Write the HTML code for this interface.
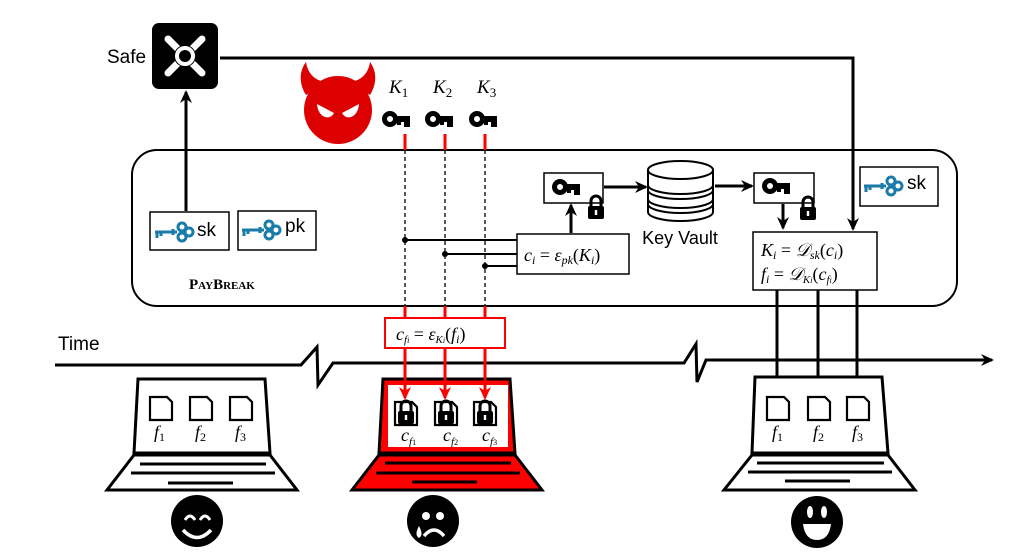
<!DOCTYPE html>
<html><head><meta charset="utf-8"><style>
html,body{margin:0;padding:0;background:#fff;}
svg{display:block;}
.t{font-family:"Liberation Sans",sans-serif;}
.m{font-family:"Liberation Serif",serif;font-style:italic;}
</style></head><body>
<svg width="1029" height="557" viewBox="0 0 1029 557" xmlns="http://www.w3.org/2000/svg">
<defs>
<marker id="ab" markerWidth="14" markerHeight="14" refX="11" refY="6" orient="auto" markerUnits="userSpaceOnUse"><path d="M0,0 L13,6 L0,12 L4,6 Z" fill="#000"/></marker>
<marker id="ar" markerWidth="14" markerHeight="14" refX="11" refY="6" orient="auto" markerUnits="userSpaceOnUse"><path d="M0,0 L13,6 L0,12 L4,6 Z" fill="#f00"/></marker>
<g id="bkey"><circle cx="7" cy="0" r="5.5" fill="none" stroke="#000" stroke-width="5"/><rect x="12" y="-3" width="15" height="6" fill="#000"/><rect x="21" y="0" width="6" height="8" fill="#000"/><rect x="14" y="0" width="4" height="6" fill="#000"/></g>
<g id="bluekey" fill="none" stroke="#1a7aa8" stroke-width="3"><line x1="0" y1="0" x2="22" y2="0"/><line x1="2" y1="0" x2="2" y2="6"/><line x1="6" y1="0" x2="6" y2="4"/><line x1="18" y1="-3" x2="18" y2="3"/><circle cx="27" cy="-5" r="4"/><circle cx="27" cy="5" r="4"/><circle cx="34" cy="0" r="4"/></g>
<g id="lock"><path d="M-5,-2 v-5 a5,5 0 0 1 10,0 v5" fill="none" stroke="#000" stroke-width="3"/><rect x="-8" y="-2" width="16" height="13" rx="2" fill="#000"/><rect x="-1.2" y="2" width="2.4" height="5" fill="#fff"/></g>
<g id="file"><path d="M0,0 H17 L22,5 V23 H0 Z" fill="#fff" stroke="#000" stroke-width="2.2"/></g>
</defs>

<!-- Safe -->
<text x="107" y="63" class="t" font-size="19">Safe</text>
<rect x="152" y="23" width="66" height="66" rx="7" fill="#000"/>
<g stroke="#fff" stroke-width="7" stroke-linecap="round"><line x1="168" y1="39" x2="202" y2="73"/><line x1="202" y1="39" x2="168" y2="73"/></g>
<circle cx="185" cy="56" r="11" fill="#000"/><circle cx="185" cy="56" r="8" fill="none" stroke="#fff" stroke-width="4"/>
<polyline points="220,58 853,58 853,229" fill="none" stroke="#000" stroke-width="3" marker-end="url(#ab)"/>

<!-- Devil -->
<g fill="#d00">
<circle cx="338" cy="110" r="34"/>
<path d="M306,95 C298,82 300,70 306,62 C308,76 318,82 328,82 Z"/>
<path d="M370,95 C378,82 376,70 370,62 C368,76 358,82 348,82 Z"/>
</g>
<path d="M317,104 L334,113 C330,121 318,118 317,104 Z" fill="#fff"/>
<path d="M359,104 L342,113 C346,121 358,118 359,104 Z" fill="#fff"/>

<!-- K keys -->
<text x="389" y="93" class="m" font-size="19">K<tspan font-size="13" font-style="normal" dy="4">1</tspan></text>
<text x="433" y="93" class="m" font-size="19">K<tspan font-size="13" font-style="normal" dy="4">2</tspan></text>
<text x="477" y="93" class="m" font-size="19">K<tspan font-size="13" font-style="normal" dy="4">3</tspan></text>
<use href="#bkey" x="383" y="119"/><use href="#bkey" x="426" y="119"/><use href="#bkey" x="470" y="119"/>

<!-- main box -->
<rect x="132" y="150" width="825" height="156" rx="25" fill="none" stroke="#000" stroke-width="2"/>

<g stroke="#f00" stroke-width="3"><line x1="405" y1="134" x2="405" y2="150"/><line x1="445" y1="134" x2="445" y2="150"/><line x1="485" y1="134" x2="485" y2="150"/>
<line x1="405" y1="306" x2="405" y2="318"/><line x1="445" y1="306" x2="445" y2="318"/><line x1="485" y1="306" x2="485" y2="318"/></g>
<g stroke="#000" stroke-width="1.3" stroke-dasharray="4,3"><line x1="405" y1="150" x2="405" y2="306"/><line x1="445" y1="150" x2="445" y2="306"/><line x1="485" y1="150" x2="485" y2="306"/></g>
<g stroke="#000" stroke-width="2"><line x1="405" y1="240" x2="517" y2="240"/><line x1="445" y1="254" x2="517" y2="254"/><line x1="485" y1="266" x2="517" y2="266"/></g>
<circle cx="405" cy="240" r="3"/><circle cx="445" cy="254" r="3"/><circle cx="485" cy="266" r="3"/>

<!-- sk pk -->
<rect x="150" y="212" width="79" height="38" fill="#fff" stroke="#000" stroke-width="1.5"/>
<use href="#bluekey" x="155" y="232"/><text x="197" y="236" class="t" font-size="19">sk</text>
<rect x="238" y="211" width="78" height="39" fill="#fff" stroke="#000" stroke-width="1.5"/>
<use href="#bluekey" x="242" y="230"/><text x="285" y="232" class="t" font-size="19">pk</text>
<line x1="186" y1="211" x2="186" y2="92" stroke="#000" stroke-width="3" marker-end="url(#ab)"/>
<text x="189" y="289" font-family="Liberation Serif,serif" font-weight="bold" font-size="15">P<tspan font-size="11">AY</tspan>B<tspan font-size="11">REAK</tspan></text>

<!-- c_i box -->
<rect x="517" y="234" width="112" height="40" fill="#fff" stroke="#000" stroke-width="1.5"/>
<text x="524" y="261" class="m" font-size="18">c<tspan font-size="12" dy="3">i</tspan><tspan dy="-3" font-style="normal"> = </tspan>ε<tspan font-size="12" dy="3">pk</tspan><tspan dy="-3" font-style="normal">(</tspan>K<tspan font-size="12" dy="3">i</tspan><tspan dy="-3" font-style="normal">)</tspan></text>
<line x1="571" y1="233" x2="571" y2="205" stroke="#000" stroke-width="3" marker-end="url(#ab)"/>

<rect x="544" y="173" width="59" height="30" fill="#fff" stroke="#000" stroke-width="1.5"/>
<use href="#bkey" x="553" y="187"/><use href="#lock" x="596" y="208"/>
<line x1="604" y1="187" x2="646" y2="187" stroke="#000" stroke-width="3" marker-end="url(#ab)"/>

<!-- DB -->
<g fill="#fff" stroke="#000" stroke-width="2">
<path d="M648,170 V212 A32.5,9 0 0 0 713,212 V170"/>
<ellipse cx="680.5" cy="170" rx="32.5" ry="9"/>
<path d="M648,185 A32.5,9 0 0 0 713,185" fill="none"/><path d="M648,190 A32.5,9 0 0 0 713,190" fill="none"/>
<path d="M648,199 A32.5,9 0 0 0 713,199" fill="none"/><path d="M648,204 A32.5,9 0 0 0 713,204" fill="none"/>
</g>
<text x="680" y="244" class="t" font-size="18" text-anchor="middle">Key Vault</text>
<line x1="715" y1="186" x2="752" y2="186" stroke="#000" stroke-width="3" marker-end="url(#ab)"/>

<rect x="754" y="173" width="60" height="30" fill="#fff" stroke="#000" stroke-width="1.5"/>
<use href="#bkey" x="763" y="186"/><use href="#lock" x="808" y="209"/>
<line x1="783" y1="204" x2="783" y2="228" stroke="#000" stroke-width="3" marker-end="url(#ab)"/>

<rect x="860" y="167" width="78" height="39" fill="#fff" stroke="#000" stroke-width="1.5"/>
<use href="#bluekey" x="864" y="186"/><text x="907" y="189" class="t" font-size="19">sk</text>

<!-- decrypt box -->
<rect x="753" y="232" width="124" height="58" fill="#fff" stroke="#000" stroke-width="1.5"/>
<text x="761" y="256" class="m" font-size="18">K<tspan font-size="12" dy="3">i</tspan><tspan dy="-3" font-style="normal"> = </tspan>𝒟<tspan font-size="12" dy="3">sk</tspan><tspan dy="-3" font-style="normal">(</tspan>c<tspan font-size="12" dy="3">i</tspan><tspan dy="-3" font-style="normal">)</tspan></text>
<text x="761" y="280" class="m" font-size="18">f<tspan font-size="12" dy="3">i</tspan><tspan dy="-3" font-style="normal"> = </tspan>𝒟<tspan font-size="11" dy="3">K<tspan font-size="8">i</tspan></tspan><tspan dy="-3" font-style="normal">(</tspan>c<tspan font-size="11" dy="3">f<tspan font-size="8">i</tspan></tspan><tspan dy="-3" font-style="normal">)</tspan></text>
<g stroke="#000" stroke-width="3" marker-end="url(#ab)"><line x1="777" y1="290" x2="777" y2="394"/><line x1="818" y1="290" x2="818" y2="394"/><line x1="857" y1="290" x2="857" y2="394"/></g>

<!-- timeline -->
<text x="58" y="350" class="t" font-size="19">Time</text>
<polyline points="55,365 301,365 317,347 318,385 333,363 684,363 696,344 697,382 706,360 992,360" fill="none" stroke="#000" stroke-width="3" marker-end="url(#ab)"/>

<!-- red cfi box -->
<rect x="385" y="318" width="120" height="30" fill="#fff" stroke="#f00" stroke-width="2"/>
<text x="396" y="340" class="m" font-size="18">c<tspan font-size="11" dy="3">f<tspan font-size="8">i</tspan></tspan><tspan dy="-3" font-style="normal"> = </tspan>ε<tspan font-size="11" dy="3">K<tspan font-size="8">i</tspan></tspan><tspan dy="-3" font-style="normal">(</tspan>f<tspan font-size="12" dy="3">i</tspan><tspan dy="-3" font-style="normal">)</tspan></text>

<!-- laptop 1 -->
<path d="M138,379 H265 L270,453 H134 Z" fill="#fff" stroke="#000" stroke-width="3"/>
<path d="M134,455 H270 L297,490 H107 Z" fill="#fff" stroke="#000" stroke-width="3"/>
<g stroke="#000" stroke-width="3"><line x1="140" y1="464" x2="266" y2="464"/><line x1="131" y1="473" x2="275" y2="473"/><line x1="168" y1="483" x2="233" y2="483"/></g>
<use href="#file" x="150" y="397"/><use href="#file" x="190" y="397"/><use href="#file" x="230" y="397"/>
<g class="m" font-size="18"><text x="154" y="438">f<tspan font-size="12" font-style="normal" dy="3">1</tspan></text><text x="195" y="438">f<tspan font-size="12" font-style="normal" dy="3">2</tspan></text><text x="235" y="438">f<tspan font-size="12" font-style="normal" dy="3">3</tspan></text></g>
<circle cx="197" cy="521" r="26"/>
<path d="M183,530 Q197,545 211,530" fill="none" stroke="#fff" stroke-width="3.5"/>
<path d="M185,520 Q190,512 195,520 M200,520 Q205,512 210,520" fill="none" stroke="#fff" stroke-width="3"/>

<!-- laptop 2 (red) -->
<path d="M383,379 H510 L515,453 H379 Z" fill="#f00" stroke="#000" stroke-width="3"/>
<rect x="388" y="385" width="120" height="62" fill="#fff"/>
<path d="M379,455 H515 L542,490 H352 Z" fill="#f00" stroke="#000" stroke-width="3"/>
<g stroke="#000" stroke-width="3"><line x1="385" y1="463" x2="511" y2="463"/><line x1="376" y1="473" x2="520" y2="473"/><line x1="412" y1="482" x2="477" y2="482"/></g>
<g stroke="#f00" stroke-width="3" marker-end="url(#ar)"><line x1="405" y1="348" x2="405" y2="398"/><line x1="445" y1="348" x2="445" y2="398"/><line x1="485" y1="348" x2="485" y2="398"/></g>
<use href="#file" x="395" y="402"/><use href="#file" x="435" y="402"/><use href="#file" x="474" y="402"/>
<use href="#lock" x="406" y="413"/><use href="#lock" x="446" y="413"/><use href="#lock" x="485" y="413"/>
<g class="m" font-size="18"><text x="401" y="441">c<tspan font-size="11" dy="4">f<tspan font-size="8" font-style="normal">1</tspan></tspan></text><text x="443" y="441">c<tspan font-size="11" dy="4">f<tspan font-size="8" font-style="normal">2</tspan></tspan></text><text x="482" y="441">c<tspan font-size="11" dy="4">f<tspan font-size="8" font-style="normal">3</tspan></tspan></text></g>
<circle cx="433" cy="521" r="26"/>
<circle cx="426" cy="516" r="4" fill="#fff"/><circle cx="440" cy="516" r="4" fill="#fff"/>
<path d="M424,536 Q434,524 444,536" fill="none" stroke="#fff" stroke-width="3.5"/>
<path d="M419,526 Q414,535 419,538 Q424,535 419,526 Z" fill="#fff"/>

<!-- laptop 3 -->
<path d="M755,377 H882 L888,453 H752 Z" fill="#fff" stroke="#000" stroke-width="3"/>
<path d="M752,455 H888 L915,490 H724 Z" fill="#fff" stroke="#000" stroke-width="3"/>
<g stroke="#000" stroke-width="3"><line x1="757" y1="463" x2="884" y2="463"/><line x1="748" y1="472" x2="892" y2="472"/><line x1="785" y1="481" x2="850" y2="481"/></g>
<use href="#file" x="767" y="397"/><use href="#file" x="808" y="397"/><use href="#file" x="847" y="397"/>
<g class="m" font-size="18"><text x="772" y="438">f<tspan font-size="12" font-style="normal" dy="3">1</tspan></text><text x="813" y="438">f<tspan font-size="12" font-style="normal" dy="3">2</tspan></text><text x="852" y="438">f<tspan font-size="12" font-style="normal" dy="3">3</tspan></text></g>
<circle cx="817" cy="522" r="26"/>
<ellipse cx="810" cy="512" rx="3" ry="6" fill="#fff"/><ellipse cx="824" cy="512" rx="3" ry="6" fill="#fff"/>
<path d="M803,524 H831 Q829,540 817,540 Q805,540 803,524 Z" fill="#fff"/>
</svg>
</body></html>
